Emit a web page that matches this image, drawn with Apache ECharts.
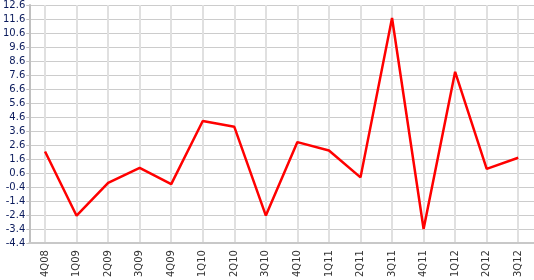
<!DOCTYPE html>
<html>
<head>
<meta charset="utf-8">
<script src="https://cdn.jsdelivr.net/npm/echarts@6/dist/echarts.min.js"></script>
<style>
html,body{margin:0;padding:0;background:#fff;}
#chart{width:534px;height:280px;}
</style>
</head>
<body>
<div id="chart"></div>
<script>
const categories = ['4Q08','1Q09','2Q09','3Q09','4Q09','1Q10','2Q10','3Q10','4Q10','1Q11','2Q11','3Q11','4Q11','1Q12','2Q12','3Q12'];
const values = [2.14, -2.45, -0.1, 0.97, -0.19, 4.32, 3.9, -2.44, 2.81, 2.21, 0.29, 11.67, -3.4, 7.83, 0.9, 1.69];
const yMin = -4.4;
const yMax = 12.6;
const yStep = 1;

const chart = echarts.init(document.getElementById('chart'));
chart.setOption({
  animation: false,
  grid: {left: 29, right: 0, top: 2, bottom: 33, containLabel: false},
  xAxis: {
    type: 'category',
    data: categories,
    boundaryGap: true,
    axisLine: {onZero: false, lineStyle: {color: '#c8c8c8', width: 2}},
    axisTick: {show: false},
    axisLabel: {rotate: 90, color: '#333', fontFamily: 'DejaVu Sans', fontSize: 10, margin: 7, interval: 0},
    splitLine: {show: true, alignWithLabel: true, interval: 0, lineStyle: {color: '#e0e0e0', width: 2}}
  },
  yAxis: {
    type: 'value',
    min: yMin,
    max: yMax,
    interval: yStep,
    axisLine: {show: true, lineStyle: {color: '#c0c0c0', width: 2}},
    axisTick: {show: true, length: 3, lineStyle: {color: '#c0c0c0'}},
    axisLabel: {color: '#0a1a5c', fontFamily: 'DejaVu Sans', fontSize: 10, margin: 4,
      formatter: v => (Math.round(v * 10) / 10).toFixed(1)},
    splitLine: {show: true, lineStyle: {color: '#cccccc', width: 1}}
  },
  series: [{
    type: 'line',
    data: values,
    symbol: 'none',
    lineStyle: {color: '#ff0000', width: 2.5},
    z: 5
  }]
});
</script>
</body>
</html>
